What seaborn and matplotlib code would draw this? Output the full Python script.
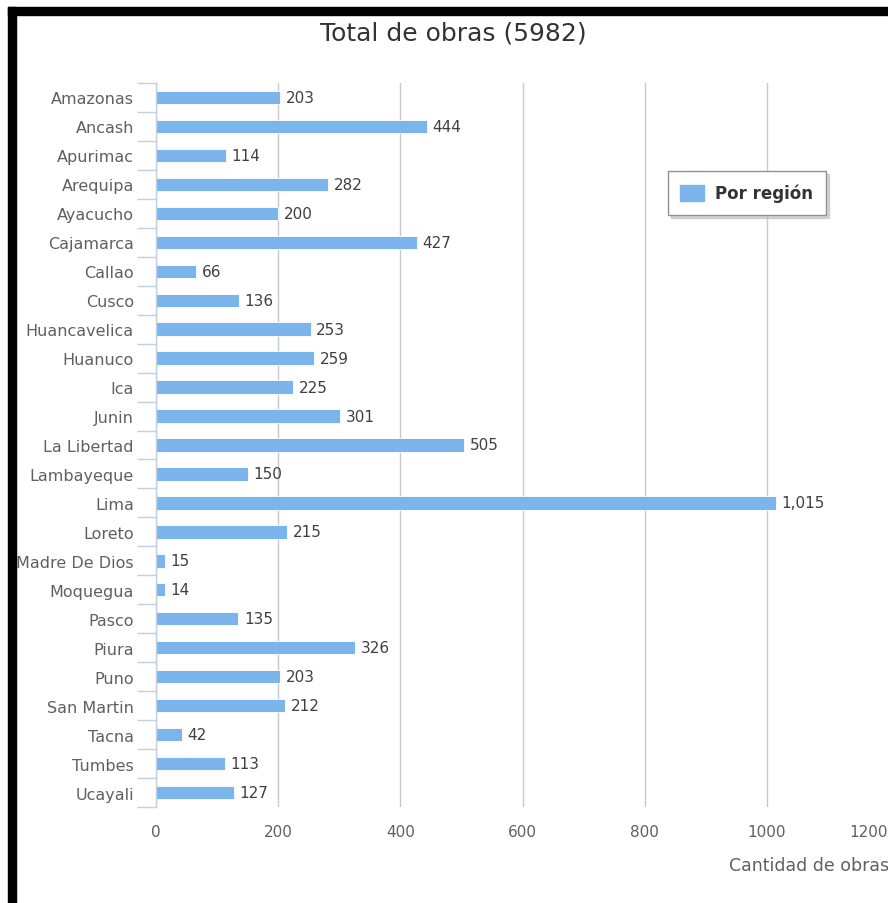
import numpy as np
import pandas as pd
import matplotlib
matplotlib.use("Agg")
import matplotlib.pyplot as plt
import seaborn as sns
from matplotlib.patches import Rectangle

# Data
regions = ["Amazonas", "Ancash", "Apurimac", "Arequipa", "Ayacucho", "Cajamarca",
           "Callao", "Cusco", "Huancavelica", "Huanuco", "Ica", "Junin",
           "La Libertad", "Lambayeque", "Lima", "Loreto", "Madre De Dios",
           "Moquegua", "Pasco", "Piura", "Puno", "San Martin", "Tacna",
           "Tumbes", "Ucayali"]
obras = [203, 444, 114, 282, 200, 427, 66, 136, 253, 259, 225, 301, 505,
         150, 1015, 215, 15, 14, 135, 326, 203, 212, 42, 113, 127]
x_ticks = [0, 200, 400, 600, 800, 1000, 1200]

df = pd.DataFrame({"region": regions, "obras": obras})

sns.set_theme(style="white")
plt.rcParams["font.family"] = ["DejaVu Sans"]

bar_color = "#7cb5ec"
label_color = "#606060"

fig = plt.figure(figsize=(8.88, 9.04), dpi=100)
ax = fig.add_axes([156 / 888, 1 - 808 / 904, 733 / 888, 724 / 904])

sns.barplot(data=df, x="obras", y="region", orient="h", color=bar_color,
            width=0.46, edgecolor="white", linewidth=0.6, saturation=1, ax=ax)

ax.set_xlim(0, 1200)
ax.set_ylim(len(regions) - 0.5, -0.5)
ax.set_xticks(x_ticks)
# the last label sits on the right edge, so it is drawn separately, pulled inside
ax.set_xticklabels([str(v) for v in x_ticks[:-1]] + [""], color=label_color, fontsize=11)
ax.annotate(str(x_ticks[-1]), xy=(x_ticks[-1], 0), xycoords=("data", "axes fraction"),
            xytext=(-1, -12), textcoords="offset points", ha="right", va="top",
            fontsize=11, color=label_color)
ax.grid(axis="x", color="#c8c8c8", linewidth=1)
ax.set_axisbelow(True)

# y axis: labels at centres, tick marks at band edges
ax.set_yticks(range(len(regions)))
ax.set_yticklabels(regions, color=label_color, fontsize=11.5)
ax.set_yticks(np.arange(-0.5, len(regions), 1), minor=True)
ax.tick_params(axis="y", which="major", length=0, pad=16)
ax.tick_params(axis="y", which="minor", length=14, width=1, color="#c0d0e0", left=True)
ax.tick_params(axis="x", length=0, pad=12)

for s in ["top", "right", "bottom"]:
    ax.spines[s].set_visible(False)
ax.spines["left"].set_color("#c0d0e0")
ax.spines["left"].set_linewidth(1)

ax.set_ylabel("")
ax.set_xlabel("Cantidad de obras", color=label_color, fontsize=12.5)
ax.xaxis.set_label_coords(1.0, -0.068)
ax.xaxis.label.set_horizontalalignment("right")

for i, v in enumerate(obras):
    ax.text(v + 9, i, f"{v:,}", va="center", ha="left", fontsize=11, color="#404040")

fig.text(453 / 888, 1 - 33 / 904, "Total de obras (5982)", ha="center", va="center",
         fontsize=18, color="#333333")

# legend
handle = Rectangle((0, 0), 1, 1, color=bar_color)
leg = ax.legend([handle], ["Por región"], loc="upper right",
                bbox_to_anchor=(0.914, 0.878), borderaxespad=0, frameon=True,
                fancybox=False, shadow={"color": "#bbbbbb", "alpha": 0.6},
                handlelength=1.4, handleheight=1.1, handletextpad=0.7,
                prop={"weight": "bold", "size": 12}, borderpad=0.75)
leg.get_frame().set_edgecolor("#909090")
leg.get_frame().set_linewidth(1)
for t in leg.get_texts():
    t.set_color("#333333")

# black frame around the screenshot (top and left)
fig.patches.append(Rectangle((8 / 888, 0), 8 / 888, 1 - 8 / 904,
                             transform=fig.transFigure, color="black", zorder=10))
fig.patches.append(Rectangle((8 / 888, 1 - 16 / 904), 1, 8 / 904,
                             transform=fig.transFigure, color="black", zorder=10))

fig.savefig("out.png", dpi=100)
